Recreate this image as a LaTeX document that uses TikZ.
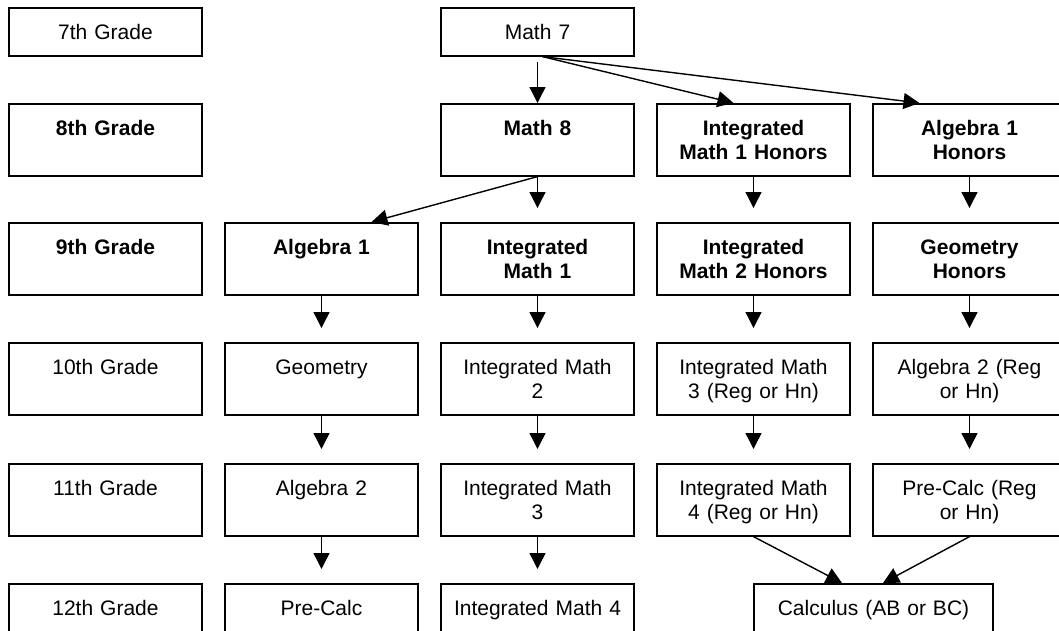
\documentclass[tikz,border=0pt]{standalone}
\usepackage{fontspec}
\setmainfont{Liberation Sans}
\usetikzlibrary{arrows.meta,calc}

\begin{document}
\begin{tikzpicture}[x=1pt,y=-1pt,
    font=\fontsize{21}{24.3}\selectfont,
    course/.style={draw, line width=1.6pt, anchor=north, inner xsep=4pt, inner ysep=0pt,
      text width=185pt, align=center, text height=31.5pt, text depth=40.5pt},
    short/.style={text depth=16.5pt},
    wide/.style={text width=231pt},
    bold/.style={font=\fontsize{21}{24.3}\selectfont\bfseries},
    link/.style={line width=1.4pt, -{Triangle[length=16pt,width=16pt]}}]
  \def\ca{105.5}
  \def\cb{321.5}
  \def\cc{537.5}
  \def\cd{753.5}
  \def\ce{969.5}
  \def\gap{14}

  \useasboundingbox (0,0) rectangle (1059,630);
  \clip (0,0) rectangle (1059,630);

  % Grade column
  \node[course, short] (g7) at (\ca,7) {7th Grade};
  \node[course, bold] (g8) at (\ca,103) {8th Grade};
  \node[course, bold] (g9) at (\ca,222) {9th Grade};
  \node[course] (g10) at (\ca,342) {10th Grade};
  \node[course] (g11) at (\ca,463) {11th Grade};
  \node[course] (g12) at (\ca,583) {12th Grade};

  % 7th and 8th grade
  \node[course, short] (m7) at (\cc,7) {Math 7};
  \node[course, bold] (m8) at (\cc,103) {Math 8};
  \node[course, bold] (im1h) at (\cd,103) {Integrated\\Math 1 Honors};
  \node[course, bold] (a1h) at (\ce,103) {Algebra 1\\Honors};

  % 9th grade
  \node[course, bold] (a1) at (\cb,222) {Algebra 1};
  \node[course, bold] (im1) at (\cc,222) {Integrated\\Math 1};
  \node[course, bold] (im2h) at (\cd,222) {Integrated\\Math 2 Honors};
  \node[course, bold] (geoh) at (\ce,222) {Geometry\\Honors};

  % 10th grade
  \node[course] (geo) at (\cb,342) {Geometry};
  \node[course] (im2) at (\cc,342) {Integrated Math\\2};
  \node[course] (im3h) at (\cd,342) {Integrated Math\\3 (Reg or Hn)};
  \node[course] (a2h) at (\ce,342) {Algebra 2 (Reg\\or Hn)};

  % 11th grade
  \node[course] (a2) at (\cb,463) {Algebra 2};
  \node[course] (im3) at (\cc,463) {Integrated Math\\3};
  \node[course] (im4h) at (\cd,463) {Integrated Math\\4 (Reg or Hn)};
  \node[course] (pch) at (\ce,463) {Pre-Calc (Reg\\or Hn)};

  % 12th grade
  \node[course] (pc) at (\cb,583) {Pre-Calc};
  \node[course] (im4) at (\cc,583) {Integrated Math 4};
  \node[course, wide] (calc) at (873.5,583) {Calculus (AB or BC)};

  % Arrows out of Math 7 and Math 8
  \draw[link] ($(m7.south)+(0,5)$) -- (m8.north);
  \draw[link] ($(m7.south)+(5,0)$) -- ($(im1h.north)+(-20,0)$);
  \draw[link] ($(m7.south)+(5,0)$) -- ($(a1h.north)+(-50,0)$);
  \draw[link] (m8.south) -- ($(a1.north)+(50,0)$);

  % Straight paths down the columns
  \foreach \a/\b in {m8/im1, im1h/im2h, a1h/geoh, a1/geo, im1/im2, im2h/im3h, geoh/a2h,
                     geo/a2, im2/im3, im3h/im4h, a2h/pch, a2/pc, im3/im4} {
    \draw[link] (\a.south) -- ($(\b.north)+(0,-\gap)$);
  }

  % Into Calculus
  \draw[link] (im4h.south) -- ($(calc.north)+(-31.5,0)$);
  \draw[link] (pch.south) -- ($(calc.north)+(9.5,0)$);
\end{tikzpicture}
\end{document}
